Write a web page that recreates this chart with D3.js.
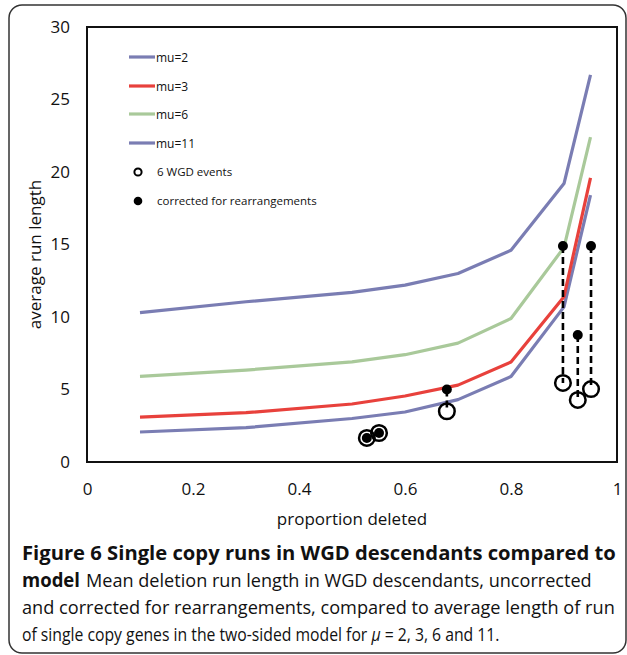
<!DOCTYPE html>
<html>
<head>
<meta charset="utf-8">
<script src="https://cdn.jsdelivr.net/npm/d3@7"></script>
<style>
  body { margin: 0; background: #fff; }
  svg { display: block; font-family: "Open Sans", sans-serif; }
</style>
</head>
<body>
<script>
// proportion deleted where the model curves are evaluated
const xProp = [0.1, 0.3, 0.5, 0.6, 0.7, 0.8, 0.9, 0.95];

// model: average run length of single copy genes
const mu2 = [2.07, 2.37, 3.0, 3.45, 4.3, 5.9, 10.7, 18.4];
const mu3 = [3.1, 3.4, 4.0, 4.55, 5.3, 6.9, 11.4, 19.6];
const mu6 = [5.9, 6.34, 6.9, 7.4, 8.2, 9.9, 14.8, 22.4];
const mu11 = [10.3, 11.05, 11.7, 12.2, 13.0, 14.6, 19.2, 26.7];

// 6 WGD events, uncorrected and corrected for rearrangements
const wgdX = [0.528, 0.551, 0.679, 0.898, 0.926, 0.951];
const wgdRaw = [1.66, 2.0, 3.5, 5.45, 4.28, 5.03];
const wgdCorrected = [1.66, 2.0, 5.0, 14.9, 8.76, 14.9];

const xTicks = [0, 0.2, 0.4, 0.6, 0.8, 1];
const yTicks = [0, 5, 10, 15, 20, 25, 30];

const seriesNames = ["mu=2", "mu=3", "mu=6", "mu=11"];
const seriesValues = [mu2, mu3, mu6, mu11];
const seriesColors = ["#7a7db3", "#e8413c", "#a9c99a", "#7a7db3"];

const width = 627, height = 655;
const plot = { left: 87, right: 617, top: 27, bottom: 462 };

const svg = d3.select("body").append("svg")
  .attr("width", width)
  .attr("height", height);

// outer rounded frame of the figure
svg.append("rect")
  .attr("x", 9).attr("y", 5)
  .attr("width", 617).attr("height", 648)
  .attr("rx", 13)
  .attr("fill", "none")
  .attr("stroke", "#333")
  .attr("stroke-width", 1.5);

const x = d3.scaleLinear().domain([0, 1]).range([plot.left, plot.right]);
const y = d3.scaleLinear().domain([0, 30]).range([plot.bottom, plot.top]);

// axes
const xAxis = svg.append("g")
  .attr("transform", `translate(0,${plot.bottom})`)
  .call(d3.axisBottom(x).tickValues(xTicks).tickSize(0).tickPadding(21).tickFormat(d3.format("")));
const yAxis = svg.append("g")
  .attr("transform", `translate(${plot.left},0)`)
  .call(d3.axisLeft(y).tickValues(yTicks).tickSize(0).tickPadding(17));

[xAxis, yAxis].forEach(g => {
  g.select(".domain").remove();
  g.selectAll("text")
    .attr("font-family", "'Open Sans', sans-serif")
    .attr("font-size", 17)
    .attr("fill", "#111");
});

// plot frame
svg.append("rect")
  .attr("x", plot.left).attr("y", plot.top)
  .attr("width", plot.right - plot.left)
  .attr("height", plot.bottom - plot.top)
  .attr("fill", "none")
  .attr("stroke", "#111")
  .attr("stroke-width", 2);

// axis titles
svg.append("text")
  .attr("x", (plot.left + plot.right) / 2)
  .attr("y", 525)
  .attr("text-anchor", "middle")
  .attr("font-size", 17)
  .attr("fill", "#111")
  .text("proportion deleted");

svg.append("text")
  .attr("transform", `translate(41,${(plot.top + plot.bottom) / 2 + 10}) rotate(-90)`)
  .attr("text-anchor", "middle")
  .attr("font-size", 17)
  .attr("fill", "#111")
  .text("average run length");

// model lines
const line = d3.line()
  .x((d, i) => x(xProp[i]))
  .y(d => y(d));

seriesValues.forEach((vals, i) => {
  svg.append("path")
    .datum(vals)
    .attr("d", line)
    .attr("fill", "none")
    .attr("stroke", seriesColors[i])
    .attr("stroke-width", 3.2)
    .attr("stroke-linejoin", "round");
});

// connectors between uncorrected and corrected values
svg.selectAll(".conn")
  .data(wgdX)
  .enter().append("line")
  .attr("x1", d => x(d))
  .attr("x2", d => x(d))
  .attr("y1", (d, i) => y(wgdCorrected[i]))
  .attr("y2", (d, i) => y(wgdRaw[i]))
  .attr("stroke", "#000")
  .attr("stroke-width", 2.6)
  .attr("stroke-dasharray", "7,4");

// corrected (filled)
svg.selectAll(".corr")
  .data(wgdX)
  .enter().append("circle")
  .attr("cx", d => x(d))
  .attr("cy", (d, i) => y(wgdCorrected[i]))
  .attr("r", 5)
  .attr("fill", "#000");

// uncorrected (open)
svg.selectAll(".raw")
  .data(wgdX)
  .enter().append("circle")
  .attr("cx", d => x(d))
  .attr("cy", (d, i) => y(wgdRaw[i]))
  .attr("r", 7.8)
  .attr("fill", "none")
  .attr("stroke", "#000")
  .attr("stroke-width", 2.5);

// legend
const legend = svg.append("g").attr("font-size", 12).attr("fill", "#111");
const legendY = [57, 86, 114, 143];
seriesNames.forEach((name, i) => {
  legend.append("line")
    .attr("x1", 129).attr("x2", 155)
    .attr("y1", legendY[i]).attr("y2", legendY[i])
    .attr("stroke", seriesColors[i])
    .attr("stroke-width", 3.2);
  legend.append("text")
    .attr("x", 156).attr("y", legendY[i] + 4.5)
    .text(name);
});
legend.append("circle")
  .attr("cx", 138).attr("cy", 172).attr("r", 3.6)
  .attr("fill", "none").attr("stroke", "#000").attr("stroke-width", 2);
legend.append("text")
  .attr("x", 157).attr("y", 176).attr("font-size", 11.5)
  .text("6 WGD events");
legend.append("circle")
  .attr("cx", 138).attr("cy", 201).attr("r", 4.3)
  .attr("fill", "#000");
legend.append("text")
  .attr("x", 157).attr("y", 205).attr("font-size", 11.5)
  .text("corrected for rearrangements");

// caption: each line is scaled horizontally to the reference width
const cap = svg.append("g").attr("font-size", 19).attr("fill", "#111");
function capLine(tx, ty, len, bold, fill) {
  const t = cap.append("text")
    .attr("font-weight", bold ? "bold" : "normal");
  fill(t);
  const natural = t.node().getComputedTextLength();
  t.attr("transform", `translate(${tx},${ty}) scale(${len / natural},1)`);
  return t;
}
capLine(22, 560, 594, true, t => t.text("Figure 6 Single copy runs in WGD descendants compared to"));
capLine(22, 587, 58, true, t => t.text("model"));
capLine(86, 587, 506, false, t => t.text("Mean deletion run length in WGD descendants, uncorrected"));
capLine(22, 614, 593, false, t => t.text("and corrected for rearrangements, compared to average length of run"));
capLine(22, 641, 478, false, t => {
  t.append("tspan").text("of single copy genes in the two-sided model for ");
  t.append("tspan").attr("font-style", "italic").text("μ");
  t.append("tspan").text(" = 2, 3, 6 and 11.");
});
</script>
</body>
</html>
